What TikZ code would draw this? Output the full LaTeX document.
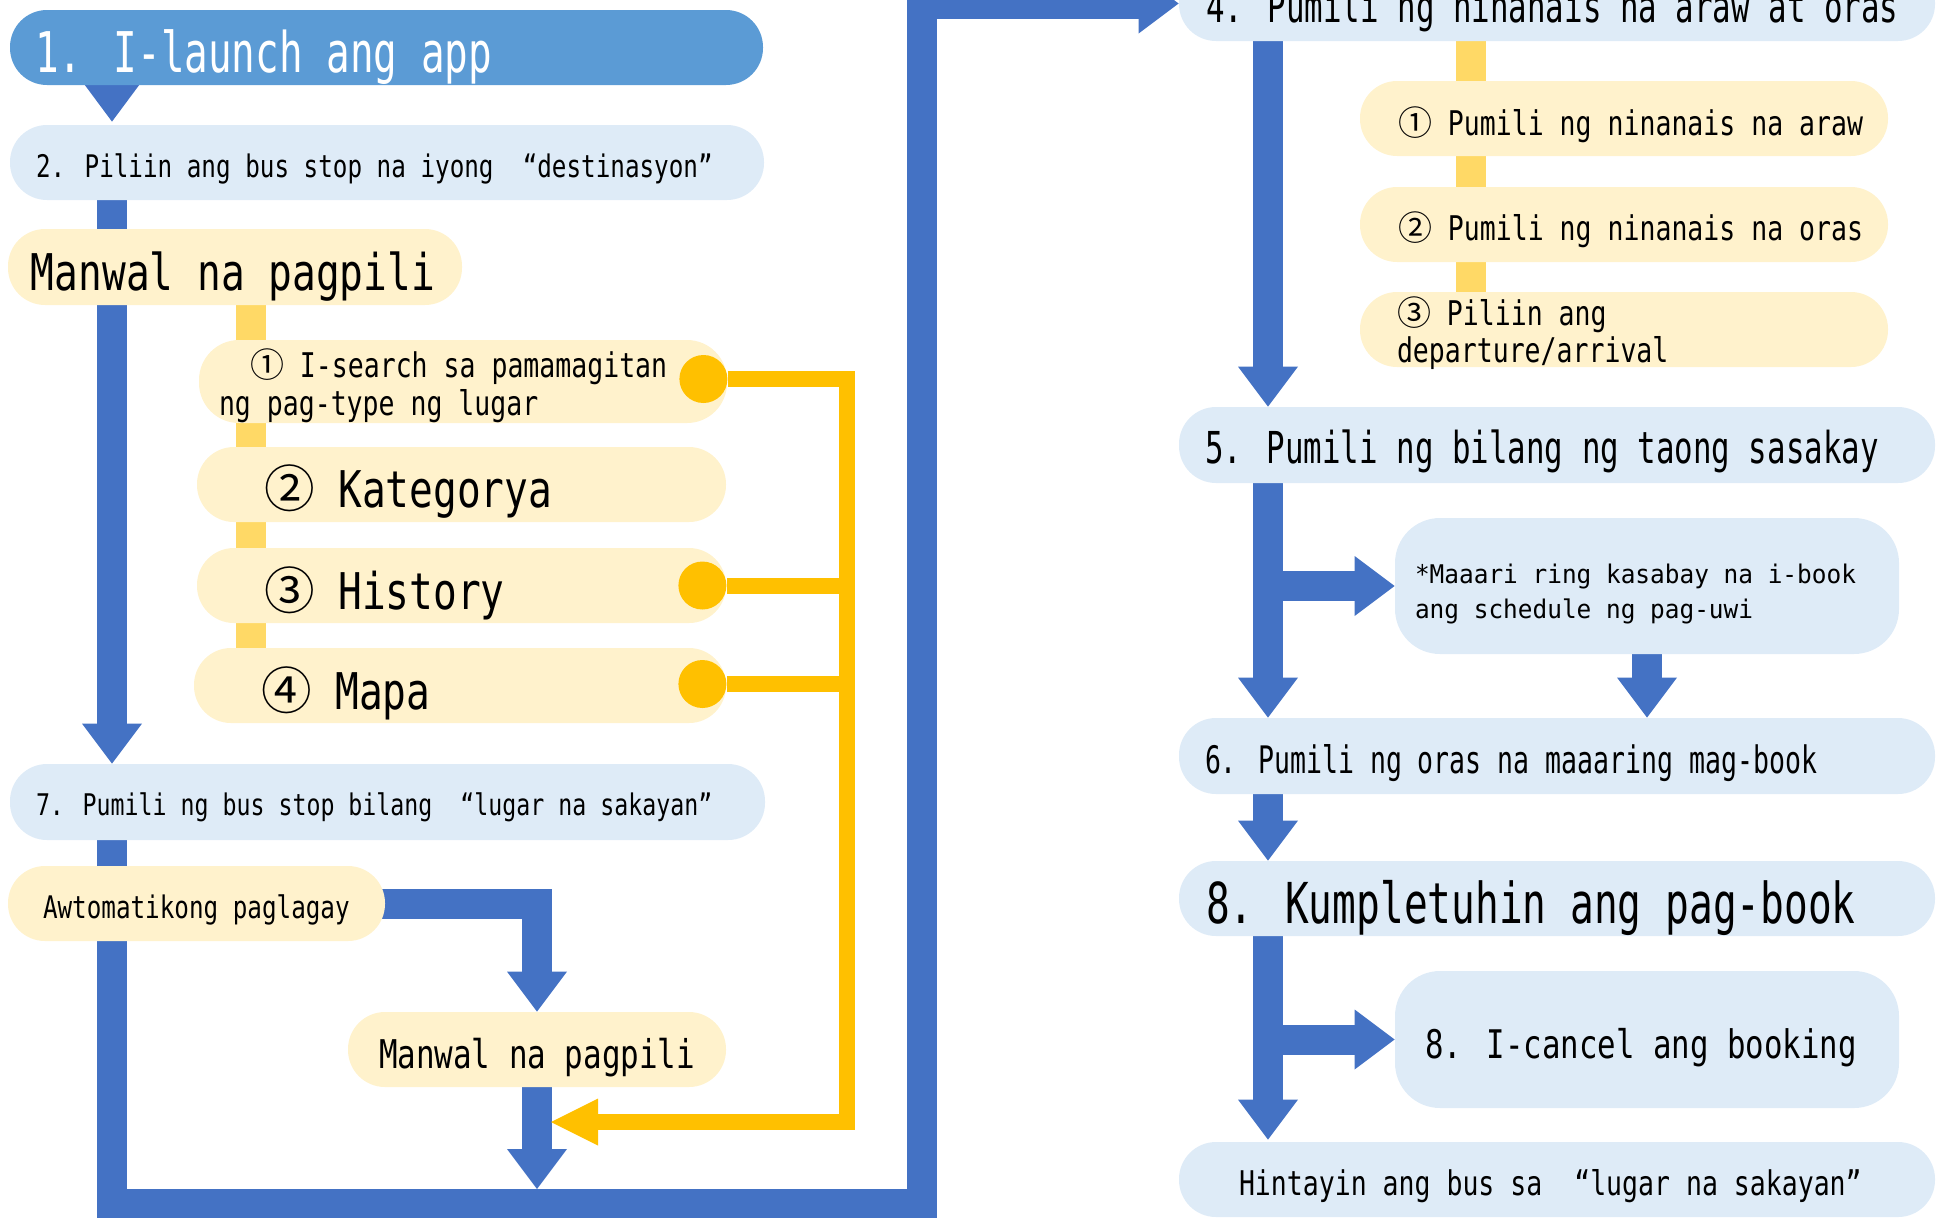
\documentclass[tikz,border=0pt]{standalone}
\usepackage{fontspec}
\usetikzlibrary{arrows.meta,calc}
\newfontfamily\fa[FakeStretch=0.78]{DejaVu Sans Mono}
\newfontfamily\fb[FakeStretch=0.70]{DejaVu Sans Mono}
\newfontfamily\fc[FakeStretch=0.95]{DejaVu Sans Mono}
\newfontfamily\cj{Noto Sans CJK JP}
\definecolor{hdr}{HTML}{5B9BD5}
\definecolor{lblue}{HTML}{DEEBF7}
\definecolor{lyel}{HTML}{FFF2CC}
\definecolor{arrb}{HTML}{4472C4}
\definecolor{orng}{HTML}{FFC000}
\definecolor{ytrk}{HTML}{FFD966}
\newcommand\oneline[2]{\makebox[#1][l]{#2}}
\newcommand\twoline[3]{\parbox[t]{#1}{\mbox{#2}\\\mbox{#3}}}
\newcommand\cn[1]{{\cj #1}}
\pgfdeclarelayer{bg}
\pgfsetlayers{bg,main}
\tikzset{
  boxbase/.style={inner sep=0pt, text depth=0pt, draw=none},
  pb/.style={boxbase, fill=lblue, rounded corners=18.5pt, minimum height=37.5pt},
  py/.style={boxbase, fill=lyel, rounded corners=18.5pt, minimum height=37.5pt},
  bbar/.style={draw=arrb, line width=15pt, line join=miter, -{Triangle[width=30pt,length=20pt,line width=0pt]}},
  ytk/.style={draw=ytrk, line width=15pt},
  obar/.style={draw=orng, line width=8pt, line join=miter},
  odot/.style={circle, fill=orng, minimum size=24pt, inner sep=0pt},
}
\begin{document}
\begin{tikzpicture}[x=0.5pt,y=-0.5pt]
\useasboundingbox (0,0) rectangle (1947,1217);
% helper coordinates
\coordinate (xL) at (112,0);
\coordinate (yL) at (251,0);
\coordinate (xR) at (1268,0);
\coordinate (yR) at (1471,0);
\coordinate (oX) at (847,0);
\coordinate (fX) at (922,0);
\coordinate (fY) at (0,1204);
\coordinate (fYt) at (0,1189);
\coordinate (oTip) at (551,1122);

% left column
\node[boxbase, fill=hdr, rounded corners=18.5pt, minimum width=376.5pt, minimum height=37.5pt, text height=24.5pt, text=white, font=\fontsize{28.05pt}{34pt}\fb] (b1) at (386.5,47.5) {\oneline{351.5pt}{1. I-launch ang app}};
\node[pb, minimum width=377pt, text height=14.5pt, font=\fontsize{15.55pt}{19pt}\fa] (b2) at (387,162.5) {\oneline{351pt}{2. Piliin ang bus stop na iyong~~“destinasyon”}};
\node[py, minimum width=227pt, minimum height=38pt, text height=23pt, font=\fontsize{25.3pt}{31pt}\fa] (man1) at (235,267) {\oneline{204pt}{Manwal na pagpili}};
\node[py, minimum width=264pt, minimum height=41.5pt, rounded corners=20pt, text height=0pt, text depth=4.5pt, font=\fontsize{17pt}{19pt}\fa] (it1) at (463,381.5) {\twoline{244pt}{\hspace*{15.5pt}\cn{①} I-search sa pamamagitan}{ng pag-type ng lugar}};
\node[py, minimum width=264.5pt, text height=22.5pt, font=\fontsize{25.3pt}{30pt}\fa] (it2) at (461.5,484.5) {\oneline{197.5pt}{\cn{②} Kategorya}};
\node[py, minimum width=264.5pt, text height=23.5pt, font=\fontsize{25.3pt}{30pt}\fa] (it3) at (461.5,585.5) {\oneline{197.5pt}{\cn{③} History}};
\node[py, minimum width=266pt, text height=23.5pt, font=\fontsize{25.3pt}{30pt}\fa] (it4) at (460,685.5) {\oneline{199pt}{\cn{④} Mapa}};
\node[pb, minimum width=377.5pt, minimum height=38pt, text height=13pt, font=\fontsize{14.9pt}{18pt}\fa] (b7) at (387.5,802) {\oneline{351.5pt}{7. Pumili ng bus stop bilang~~“lugar na sakayan”}};
\node[py, minimum width=188.5pt, text height=14.5pt, font=\fontsize{15.55pt}{19pt}\fa] (awt) at (196.5,903.5) {\oneline{153.5pt}{Awtomatikong paglagay}};
\node[py, minimum width=189pt, text height=18.5pt, font=\fontsize{19.8pt}{24pt}\fa] (man2) at (537,1049.5) {\oneline{158pt}{Manwal na pagpili}};

% right column
\node[pb, minimum width=378pt, text height=18.5pt, font=\fontsize{22pt}{26pt}\fb] (b4) at (1557,3.5) {\oneline{351pt}{4. Pumili ng ninanais na araw at oras}};
\node[py, minimum width=264pt, text height=16.5pt, font=\fontsize{17pt}{20pt}\fa] (s1) at (1624,118.5) {\oneline{226pt}{\cn{①} Pumili ng ninanais na araw}};
\node[py, minimum width=264pt, text height=15.5pt, font=\fontsize{17pt}{20pt}\fa] (s2) at (1624,224.5) {\oneline{226pt}{\cn{②} Pumili ng ninanais na oras}};
\node[py, minimum width=264pt, text height=0pt, text depth=4.5pt, font=\fontsize{17pt}{18.5pt}\fa] (s3) at (1624,329.5) {\twoline{227pt}{\cn{③} Piliin ang}{departure/arrival}};
\node[pb, minimum width=378pt, minimum height=38pt, text height=18pt, font=\fontsize{22pt}{26pt}\fb] (b5) at (1557,445) {\oneline{352pt}{5. Pumili ng bilang ng taong sasakay}};
\node[pb, minimum width=252pt, minimum height=68pt, rounded corners=22.5pt, text height=0pt, text depth=3pt, font=\fontsize{12.85pt}{17.5pt}\fc] (note) at (1647,586) {\twoline{232pt}{*Maaari ring kasabay na i-book}{ang schedule ng pag-uwi}};
\node[pb, minimum width=378pt, minimum height=38pt, text height=17pt, font=\fontsize{18.95pt}{22pt}\fb] (b6) at (1557,756) {\oneline{352pt}{6. Pumili ng oras na maaaring mag-book}};
\node[pb, minimum width=378pt, text height=24.5pt, font=\fontsize{28.2pt}{34pt}\fb] (b8) at (1557,898.5) {\oneline{351pt}{8. Kumpletuhin ang pag-book}};
\node[pb, minimum width=252pt, minimum height=68.5pt, rounded corners=22.5pt, text height=18.5pt, font=\fontsize{19.7pt}{24pt}\fa] (cancel) at (1647,1039.5) {\oneline{222pt}{8. I-cancel ang booking}};
\node[pb, minimum width=378pt, text height=15.5pt, font=\fontsize{17pt}{20pt}\fa] (hint) at (1557,1179.5) {\oneline{318pt}{Hintayin ang bus sa~~“lugar na sakayan”}};

% dots
\node[odot] (d1) at ($(it1.east)+(-24,-2.5)$) {};
\node[odot] (d3) at ($(it3.east)+(-24,0)$) {};
\node[odot] (d4) at ($(it4.east)+(-24,-1.5)$) {};

% orange connectors
\draw[obar, -{Triangle[width=23.5pt,length=23.5pt,line width=0pt]}] (d1.east) -| (oX |- oTip) -- (oTip);
\draw[obar] (d3.east) -- (d3.east -| oX);
\draw[obar] (d4.east) -- (d4.east -| oX);

\begin{pgfonlayer}{bg}
\draw[ytk] (yL |- man1.center) -- (yL |- it4.center);
\draw[ytk] (yR |- b4.center) -- (yR |- s3.center);
\draw[draw=arrb, line width=0.01pt, shorten >=1.5pt, -{Triangle[width=27.5pt,length=18.5pt,line width=0pt]}] (xL |- b1.south) -- (xL |- b2.north);
\draw[bbar] (xL |- b2.center) -- (xL |- b7.north);
\draw[bbar] (xL |- b7.center) -- (xL |- fY) -- (fX |- fY) -- (fX |- b4.west) -- (b4.west);
\draw[bbar] (awt.center) -| (man2.north);
\draw[bbar] (man2.center) -- (man2.center |- fYt);
\draw[bbar] (xR |- b4.center) -- (xR |- b5.north);
\draw[bbar] (xR |- b5.center) -- (xR |- b6.north);
\draw[bbar] (xR |- note.west) -- (note.west);
\draw[bbar] (note.center) -- (note.center |- b6.north);
\draw[bbar] (xR |- b6.center) -- (xR |- b8.north);
\draw[bbar, shorten >=1pt] (xR |- b8.center) -- (xR |- hint.north);
\draw[bbar] (xR |- cancel.west) -- (cancel.west);
\end{pgfonlayer}
\end{tikzpicture}
\end{document}
